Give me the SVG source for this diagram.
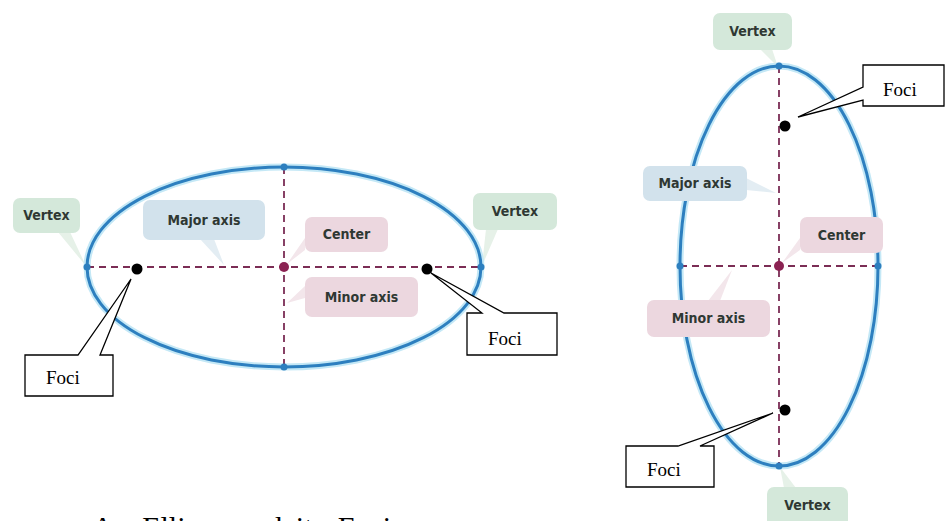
<svg xmlns="http://www.w3.org/2000/svg" width="945" height="521" viewBox="0 0 945 521">
<defs>
<style>
.glow{fill:none;stroke:#c4e8f6;stroke-width:7;}
.ell{fill:none;stroke:#2d7fbf;stroke-width:3;}
.axis{stroke:#7b2d55;stroke-width:1.8;stroke-dasharray:7 5;fill:none;}
.vdot{fill:#2d7fbf;}
.cdot{fill:#8b2252;}
.focus{fill:#000;}
.callout{fill:#fff;stroke:#000;stroke-width:1.3;}
.ctext{font-family:"Liberation Serif","Times New Roman",serif;font-size:19px;fill:#000;}
.lbl{font-family:"DejaVu Sans Condensed","DejaVu Sans",sans-serif;font-weight:bold;font-size:14px;fill:#2f3833;text-anchor:middle;}
.g{fill:#d4e8da;}
.gt{fill:#e6f1e8;}
.b{fill:#d2e2ec;}
.bt{fill:#e3edf3;}
.p{fill:#ecd7df;}
.pt{fill:#f3e6eb;}
.cap{font-family:"Liberation Serif","Times New Roman",serif;font-size:30px;fill:#000;}
</style>
</defs>
<rect width="945" height="521" fill="#fff"/>

<!-- label tails -->
<g id="tails">
<polygon class="gt" points="58,232 70,232 86,266"/>
<polygon class="bt" points="200,239 214,239 224,265"/>
<polygon class="gt" points="486,229 498,229 482,266"/>
<polygon class="pt" points="305,238 305,250 287,264"/>
<polygon class="pt" points="305,286 305,298 287,303"/>
<polygon class="gt" points="760,49 772,49 778,67"/>
<polygon class="bt" points="746,178 746,190 776,193"/>
<polygon class="pt" points="800,238 800,250 782,263"/>
<polygon class="pt" points="708,301 720,301 732,270"/>
<polygon class="gt" points="784,488 796,488 780,467"/>
</g>

<!-- left ellipse -->
<g id="ellipse-left">
<ellipse class="glow" cx="284" cy="267" rx="197" ry="100"/>
<ellipse class="ell" cx="284" cy="267" rx="197" ry="100"/>
</g>
<!-- right ellipse -->
<g id="ellipse-right">
<ellipse class="glow" cx="779" cy="266" rx="99" ry="200"/>
<ellipse class="ell" cx="779" cy="266" rx="99" ry="200"/>
</g>

<g id="connectors">
<line class="axis" x1="87" y1="267" x2="481" y2="267"/>
<line class="axis" x1="284" y1="167" x2="284" y2="367"/>
<line class="axis" x1="680" y1="266" x2="878" y2="266"/>
<line class="axis" x1="779" y1="66" x2="779" y2="466"/>
</g>

<g id="points">
<circle class="vdot" cx="87" cy="267" r="3.5"/>
<circle class="vdot" cx="481" cy="267" r="3.5"/>
<circle class="vdot" cx="284" cy="167" r="3.5"/>
<circle class="vdot" cx="284" cy="367" r="3.5"/>
<circle class="cdot" cx="284" cy="267" r="5"/>
<circle class="vdot" cx="680" cy="266" r="3.5"/>
<circle class="vdot" cx="878" cy="266" r="3.5"/>
<circle class="vdot" cx="779" cy="66" r="3.5"/>
<circle class="vdot" cx="779" cy="466" r="3.5"/>
<circle class="cdot" cx="779" cy="266" r="5"/>
<circle class="focus" cx="137" cy="269" r="5.5"/>
<circle class="focus" cx="427" cy="269" r="5.5"/>
<circle class="focus" cx="785" cy="126" r="5.5"/>
<circle class="focus" cx="785" cy="410" r="5.5"/>
</g>

<!-- pastel labels, left diagram -->
<g id="vertex-left"><rect class="g" x="13" y="198" width="67" height="35" rx="7"/><text class="lbl" x="46.5" y="220">Vertex</text></g>
<g id="major-left"><rect class="b" x="143" y="200" width="122" height="40" rx="7"/><text class="lbl" x="204" y="225">Major axis</text></g>
<g id="vertex-right"><rect class="g" x="473" y="193" width="84" height="37" rx="7"/><text class="lbl" x="515" y="216">Vertex</text></g>
<g id="center-left"><rect class="p" x="305" y="217" width="83" height="35" rx="7"/><text class="lbl" x="346.5" y="239">Center</text></g>
<g id="minor-left"><rect class="p" x="305" y="277" width="113" height="40" rx="7"/><text class="lbl" x="361.5" y="302">Minor axis</text></g>

<!-- pastel labels, right diagram -->
<g id="vertex-top"><rect class="g" x="713" y="13" width="79" height="37" rx="7"/><text class="lbl" x="752.5" y="36">Vertex</text></g>
<g id="major-right"><rect class="b" x="643" y="166" width="104" height="35" rx="7"/><text class="lbl" x="695" y="188">Major axis</text></g>
<g id="center-right"><rect class="p" x="800" y="217" width="83" height="36" rx="7"/><text class="lbl" x="841.5" y="240">Center</text></g>
<g id="minor-right"><rect class="p" x="647" y="300" width="123" height="37" rx="7"/><text class="lbl" x="708.5" y="323">Minor axis</text></g>
<g id="vertex-bottom"><rect class="g" x="767" y="487" width="81" height="40" rx="7"/><text class="lbl" x="807.5" y="510">Vertex</text></g>

<!-- Foci callouts -->
<g id="foci-1"><path class="callout" d="M25,355 H78 L131,279 L100,355 H113 V396 H25 Z"/><text class="ctext" x="46" y="384">Foci</text></g>
<g id="foci-2"><path class="callout" d="M467,313 H482 L431,273 L504,313 H557 V355 H467 Z"/><text class="ctext" x="488" y="345">Foci</text></g>
<g id="foci-3"><path class="callout" d="M863,65 H944 V106 H863 V100 L798,117 L863,87 Z"/><text class="ctext" x="883" y="96">Foci</text></g>
<g id="foci-4"><path class="callout" d="M626,446 H678 L773,413 L700,446 H714 V487 H626 Z"/><text class="ctext" x="647" y="476">Foci</text></g>

<text class="cap" x="92" y="537" word-spacing="6">An Ellipse and its Foci</text>
</svg>
